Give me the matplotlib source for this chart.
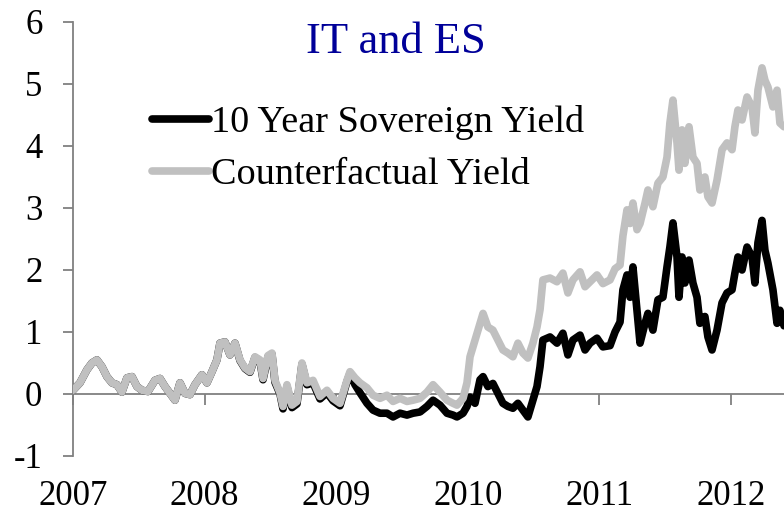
import matplotlib
matplotlib.use("Agg")
import matplotlib.pyplot as plt

plt.rcParams['font.family'] = ['Liberation Serif', 'DejaVu Serif']

# decimal years
years = [
    2007.000, 2007.053, 2007.106, 2007.144, 2007.182, 2007.220, 2007.258, 2007.296,
    2007.334, 2007.372, 2007.410, 2007.448, 2007.486, 2007.524, 2007.570, 2007.623,
    2007.661, 2007.699, 2007.737, 2007.775, 2007.813, 2007.851, 2007.889, 2007.927,
    2007.980, 2008.018, 2008.056, 2008.094, 2008.117, 2008.155, 2008.193, 2008.231,
    2008.269, 2008.307, 2008.345, 2008.383, 2008.421, 2008.444, 2008.482, 2008.512,
    2008.535, 2008.573, 2008.596, 2008.626, 2008.664, 2008.702, 2008.740, 2008.778,
    2008.824, 2008.877, 2008.930, 2008.976, 2009.029, 2009.082, 2009.105, 2009.143,
    2009.181, 2009.234, 2009.280, 2009.333, 2009.386, 2009.432, 2009.485, 2009.538,
    2009.584, 2009.637, 2009.690, 2009.736, 2009.789, 2009.842, 2009.888, 2009.918,
    2009.964, 2009.994, 2010.017, 2010.055, 2010.093, 2010.116, 2010.153, 2010.191,
    2010.229, 2010.267, 2010.305, 2010.343, 2010.381, 2010.419, 2010.457, 2010.495,
    2010.526, 2010.549, 2010.571, 2010.625, 2010.678, 2010.723, 2010.761, 2010.799,
    2010.853, 2010.891, 2010.929, 2010.982, 2011.027, 2011.081, 2011.119, 2011.157,
    2011.179, 2011.210, 2011.233, 2011.255, 2011.286, 2011.309, 2011.347, 2011.369,
    2011.407, 2011.445, 2011.483, 2011.514, 2011.536, 2011.559, 2011.590, 2011.605,
    2011.628, 2011.650, 2011.681, 2011.711, 2011.742, 2011.764, 2011.802, 2011.825,
    2011.856, 2011.894, 2011.932, 2011.970, 2012.008, 2012.030, 2012.053, 2012.084,
    2012.122, 2012.160, 2012.182, 2012.205, 2012.236, 2012.258, 2012.281, 2012.319,
    2012.350, 2012.372, 2012.403,
]

counterfactual = [
    0.06, 0.18, 0.39, 0.50, 0.55, 0.44, 0.28, 0.18,
    0.15, 0.03, 0.26, 0.28, 0.12, 0.06, 0.04, 0.22,
    0.25, 0.12, 0.01, -0.10, 0.18, 0.01, -0.01, 0.15,
    0.31, 0.18, 0.36, 0.55, 0.82, 0.84, 0.63, 0.82,
    0.55, 0.42, 0.36, 0.60, 0.55, 0.25, 0.62, 0.66,
    0.22, 0.02, -0.20, 0.15, -0.18, -0.12, 0.50, 0.18,
    0.22, -0.04, 0.06, -0.07, -0.15, 0.22, 0.36, 0.26,
    0.18, 0.10, -0.02, -0.07, -0.02, -0.12, -0.07, -0.12,
    -0.10, -0.07, 0.03, 0.15, 0.03, -0.10, -0.15, -0.18,
    -0.07, 0.18, 0.60, 0.87, 1.14, 1.30, 1.08, 1.03,
    0.87, 0.71, 0.66, 0.60, 0.82, 0.66, 0.58, 0.82,
    1.08, 1.36, 1.84, 1.87, 1.81, 1.95, 1.63, 1.84,
    1.97, 1.73, 1.81, 1.92, 1.78, 1.84, 2.02, 2.08,
    2.55, 2.97, 2.75, 3.08, 2.65, 2.75, 3.08, 3.29,
    3.02, 3.40, 3.50, 3.82, 4.37, 4.74, 4.05, 3.61,
    4.26, 3.72, 4.31, 3.82, 3.72, 3.29, 3.50, 3.18,
    3.08, 3.45, 3.94, 4.05, 3.94, 4.31, 4.58, 4.42,
    4.79, 4.63, 4.21, 4.90, 5.26, 5.06, 4.95, 4.63,
    4.90, 4.37, 4.31,
]

sovereign = [
    0.06, 0.18, 0.39, 0.50, 0.55, 0.44, 0.28, 0.18,
    0.15, 0.03, 0.26, 0.28, 0.12, 0.06, 0.04, 0.22,
    0.25, 0.12, 0.01, -0.10, 0.18, 0.01, -0.01, 0.15,
    0.31, 0.18, 0.36, 0.55, 0.82, 0.84, 0.63, 0.82,
    0.54, 0.41, 0.35, 0.59, 0.53, 0.23, 0.60, 0.64,
    0.19, 0.00, -0.24, 0.12, -0.22, -0.16, 0.48, 0.15,
    0.18, -0.08, 0.02, -0.11, -0.19, 0.20, 0.33, 0.15,
    0.02, -0.15, -0.26, -0.31, -0.31, -0.37, -0.31, -0.34,
    -0.31, -0.29, -0.20, -0.10, -0.18, -0.31, -0.34, -0.37,
    -0.31, -0.20, -0.05, -0.15, 0.23, 0.28, 0.12, 0.17,
    0.01, -0.15, -0.20, -0.23, -0.15, -0.26, -0.37, -0.10,
    0.12, 0.44, 0.87, 0.92, 0.82, 0.98, 0.63, 0.87,
    0.95, 0.71, 0.82, 0.90, 0.76, 0.78, 1.00, 1.16,
    1.68, 1.92, 1.56, 2.05, 1.35, 0.82, 1.14, 1.30,
    1.03, 1.52, 1.56, 2.05, 2.37, 2.76, 2.21, 1.56,
    2.21, 1.79, 2.16, 1.79, 1.56, 1.14, 1.25, 0.92,
    0.71, 1.03, 1.47, 1.63, 1.68, 1.95, 2.21, 2.00,
    2.37, 2.21, 1.79, 2.44, 2.80, 2.32, 2.11, 1.68,
    1.14, 1.35, 1.10,
]

year_ticks = [2007, 2008, 2009, 2010, 2011, 2012]
value_ticks = [-1, 0, 1, 2, 3, 4, 5, 6]

fig = plt.figure(figsize=(7.84, 5.17), dpi=100)
ax = fig.add_axes([0.0931, 0.1180, 0.9069, 0.8395])

axis_grey = "#808080"

ax.plot(years, sovereign, color="black", lw=5.5, solid_joinstyle="round",
        solid_capstyle="round", label="10 Year Sovereign Yield", zorder=3)
ax.plot(years, counterfactual, color="#c0c0c0", lw=5.5, solid_joinstyle="round",
        solid_capstyle="round", label="Counterfactual Yield", zorder=4)

ax.set_xlim(2007, 2012.403)
ax.set_ylim(-1, 6)

ax.spines["top"].set_visible(False)
ax.spines["right"].set_visible(False)
ax.spines["bottom"].set_position(("data", 0))
for s in ("left", "bottom"):
    ax.spines[s].set_color(axis_grey)
    ax.spines[s].set_linewidth(1.3)

ax.set_xticks(year_ticks)
ax.set_xticklabels([str(y) for y in year_ticks])
ax.set_yticks(value_ticks)
ax.set_yticklabels([str(v) for v in value_ticks])
ax.tick_params(axis="x", direction="out", length=8, width=1.3, color=axis_grey,
               labelsize=25, pad=54)
ax.tick_params(axis="y", direction="out", length=7, width=1.3, color=axis_grey,
               labelsize=25, pad=15)
for lab in ax.get_xticklabels():
    lab.set_clip_on(False)

leg = ax.legend(loc="upper left", bbox_to_anchor=(152 / 784, 0.797),
                bbox_transform=fig.transFigure, frameon=False, fontsize=27.5,
                handlelength=1.5, handletextpad=0.05, labelspacing=0.45,
                borderpad=0, borderaxespad=0)

fig.text(396 / 784, 1 - 42 / 517, "IT and ES", color="#000099", fontsize=32,
         ha="center", va="center")

fig.savefig("out.png", dpi=100)
